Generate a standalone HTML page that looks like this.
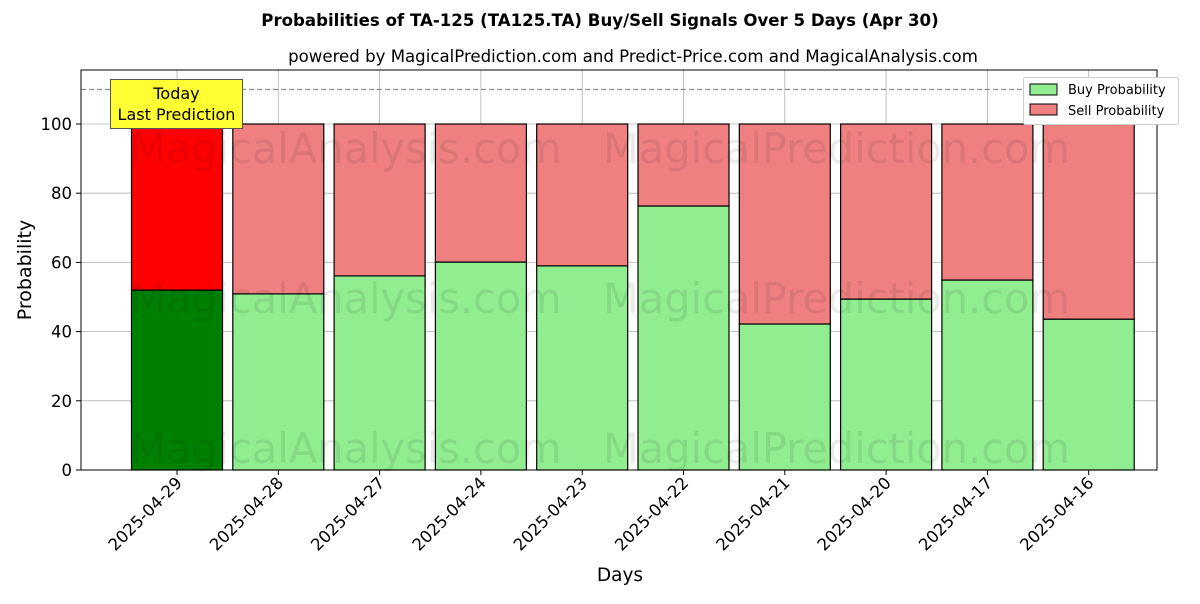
<!DOCTYPE html>
<html><head><meta charset="utf-8"><style>
body{margin:0;background:#fff;font-family:"DejaVu Sans","Liberation Sans",sans-serif}
</style></head><body>
<svg id="c" width="1200" height="600" xmlns="http://www.w3.org/2000/svg" font-family="DejaVu Sans, Liberation Sans, sans-serif">
<text x="600" y="26" text-anchor="middle" font-size="16.6" font-weight="bold">Probabilities of TA-125 (TA125.TA) Buy/Sell Signals Over 5 Days (Apr 30)</text>
<text x="633" y="62" text-anchor="middle" font-size="16.6">powered by MagicalPrediction.com and Predict-Price.com and MagicalAnalysis.com</text>
<g id="grid"></g>
<g id="bars"></g>
<g font-size="41.5" fill="#000" opacity="0.08">
<text x="130" y="163">MagicalAnalysis.com</text><text x="603" y="163">MagicalPrediction.com</text>
<text x="130" y="313">MagicalAnalysis.com</text><text x="603" y="313">MagicalPrediction.com</text>
<text x="130" y="463">MagicalAnalysis.com</text><text x="603" y="463">MagicalPrediction.com</text>
</g>
<line x1="81" x2="1157" y1="89.4" y2="89.4" stroke="#777" stroke-dasharray="5,3"/>
<rect x="81" y="70" width="1076" height="400" fill="none" stroke="#000"/>
<g id="axes"></g>
<g>
<rect x="110.5" y="79.5" width="132" height="49" fill="#ffff33" stroke="#555"/>
<text x="176.5" y="99" text-anchor="middle" font-size="16">Today</text>
<text x="176.5" y="120" text-anchor="middle" font-size="16">Last Prediction</text>
</g>
<g>
<rect x="1023.5" y="77.5" width="155" height="47" fill="#fff" stroke="#ccc" rx="2"/>
<rect x="1030" y="84" width="27" height="11" fill="#90ee90" stroke="#000"/>
<text x="1068" y="94" font-size="13">Buy Probability</text>
<rect x="1030" y="104" width="27" height="11" fill="#f08080" stroke="#000"/>
<text x="1068" y="115" font-size="13">Sell Probability</text>
</g>
<text x="620" y="581" text-anchor="middle" font-size="18.5">Days</text>
<text transform="translate(31,270) rotate(-90)" text-anchor="middle" font-size="19">Probability</text>
</svg>
<script>
const categories=["2025-04-29","2025-04-28","2025-04-27","2025-04-24","2025-04-23","2025-04-22","2025-04-21","2025-04-20","2025-04-17","2025-04-16"];
const buyValues=[52,50.9,56.1,60.1,59,76.3,42.2,49.4,54.9,43.6];
const totalValues=[100,100,100,100,100,100,100,100,100,100];
const yTicks=[0,20,40,60,80,100];
const NS="http://www.w3.org/2000/svg";
const x=i=>177+101.3*i;
const y=v=>470-3.46*v;
const bw=91;
function mk(t,a,p){const e=document.createElementNS(NS,t);for(const k in a)e.setAttribute(k,a[k]);p.appendChild(e);return e;}
const grid=document.getElementById('grid'),bars=document.getElementById('bars'),axes=document.getElementById('axes');
yTicks.forEach(v=>{
 const g=mk('line',{x1:81,x2:1157,y1:y(v),y2:y(v),stroke:'#b0b0b0','stroke-width':0.8},grid);
 
 
 mk('line',{x1:76,x2:81,y1:y(v),y2:y(v),stroke:'#000'},axes);
 const t=mk('text',{x:72,y:y(v)+6,'text-anchor':'end','font-size':16.5},axes);t.textContent=v;
 
 
});
categories.forEach((c,i)=>{
 const g=mk('line',{x1:x(i),x2:x(i),y1:70,y2:470,stroke:'#b0b0b0','stroke-width':0.8},grid);
 
 
 const today=i===0;
 const b=mk('rect',{x:x(i)-bw/2,y:y(buyValues[i]),width:bw,height:y(0)-y(buyValues[i]),fill:today?'#008000':'#90ee90',stroke:'#000','stroke-width':1.2},bars);
 
 
 const s=mk('rect',{x:x(i)-bw/2,y:y(totalValues[i]),width:bw,height:y(buyValues[i])-y(totalValues[i]),fill:today?'#ff0000':'#f08080',stroke:'#000','stroke-width':1.2},bars);
 
 
 mk('line',{x1:x(i),x2:x(i),y1:470,y2:475,stroke:'#000'},axes);
 const t=mk('text',{'text-anchor':'end','font-size':16.5,transform:`translate(${x(i)+6},${484}) rotate(-45)`},axes);t.textContent=c;
 
 
});
</script>
</body></html>
